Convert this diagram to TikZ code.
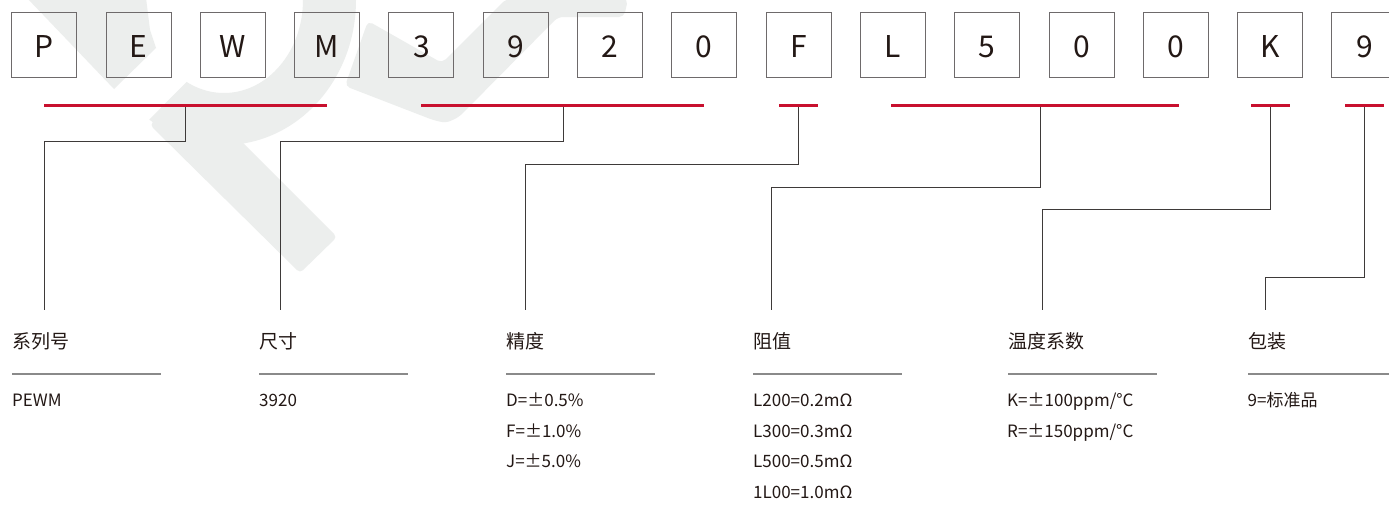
\documentclass[tikz,border=0pt]{standalone}
\usepackage{fontspec}
\setmainfont{Noto Sans CJK SC}
\definecolor{ink}{HTML}{231815}
\definecolor{boxgray}{HTML}{6E6A6B}
\definecolor{linegray}{HTML}{3E3A39}
\definecolor{sepgray}{HTML}{8A8A8A}
\definecolor{accent}{HTML}{C8102E}
\definecolor{wm}{HTML}{ECEEED}
\begin{document}
\begin{tikzpicture}[x=1pt,y=-1pt,
  digitbox/.style={draw=boxgray, line width=1pt, minimum size=65pt, inner sep=0pt},
  digitchar/.style={anchor=base, inner sep=0pt, text=ink, font=\fontsize{30}{30}\selectfont},
  redbar/.style={draw=accent, line width=3pt},
  conn/.style={draw=linegray, line width=1pt},
  head/.style={anchor=base west, inner sep=0pt, text=ink, font=\fontsize{19}{19}\selectfont},
  val/.style={anchor=base west, inner sep=0pt, text=ink, font=\fontsize{17}{17}\selectfont},
  sep/.style={draw=sepgray, line width=1.5pt},
  wmark/.style={fill=wm, draw=none}
]
\useasboundingbox (0,0) rectangle (1389,506);
\clip (0,0) rectangle (1389,506);
\fill[white] (0,0) rectangle (1389,506);

% watermark
\fill[wmark] (27,-2) -- (146,-2) -- (150,30) -- (156,48) -- (114,89) -- cycle;
\begin{scope}
  \clip (273,-5) -- (700,-5) -- (700,300) -- (-30,300) -- cycle;
  \fill[wmark, even odd rule] (224,0) ellipse [x radius=132pt, y radius=145pt]
                              (224,0) ellipse [x radius=79pt, y radius=93pt];
\end{scope}
\fill[wmark, rounded corners=4pt] (150,125) -- (300,273) -- (337,237) -- (230,130) -- (187,86) -- cycle;
\fill[wmark, rounded corners=5pt] (368,21) -- (442,63) -- (506,-1) -- (628,-1) -- (624,17) -- (558,17) -- (459,117) -- (446,123) -- (433,120) -- (345,86) -- cycle;

% code boxes
\foreach \t [count=\i from 0] in {P,E,W,M,3,9,2,0,F,L,5,0,0,K,9} {
  \node[digitbox] (b\i) at ({44.2+94.3*\i},45.2) {};
  \node[digitchar] (t\i) at ({44.2+94.3*\i},57.3) {\t};
}

% red bars
\coordinate (r1a) at (44.2,105.3);   \coordinate (r1b) at (327.1,105.3);
\coordinate (r2a) at (421.4,105.3);  \coordinate (r2b) at (704.3,105.3);
\coordinate (r3a) at (779,105.3);    \coordinate (r3b) at (818,105.3);
\coordinate (r4a) at (891,105.3);    \coordinate (r4b) at (1179,105.3);
\coordinate (r5a) at (1251,105.3);   \coordinate (r5b) at (1290,105.3);
\coordinate (r6a) at (1345,105.3);   \coordinate (r6b) at (1384,105.3);
\foreach \k in {1,...,6} { \draw[redbar] (r\k a) -- (r\k b); }

% taps, knees, ends
\coordinate (tap1) at (185.3,106.5);  \coordinate (knee1) at (44,141.7);    \coordinate (end1) at (44,310);
\coordinate (tap2) at (563,106.5);    \coordinate (knee2) at (280,141.7);   \coordinate (end2) at (280,310);
\coordinate (tap3) at (798.7,106.5);  \coordinate (knee3) at (525.7,164.3); \coordinate (end3) at (525.7,310);
\coordinate (tap4) at (1040,106.5);   \coordinate (knee4) at (771,187.5);   \coordinate (end4) at (771,310);
\coordinate (tap5) at (1270,106.5);   \coordinate (knee5) at (1042.5,209.5);\coordinate (end5) at (1042.5,310);
\coordinate (tap6) at (1364.3,106.5); \coordinate (knee6) at (1265.3,277.7);\coordinate (end6) at (1265.3,310);
\foreach \k in {1,...,6} { \draw[conn] (tap\k) |- (knee\k) -- (end\k); }

% headings
\node[head] (h1) at (12,348.5) {系列号};
\node[head] (h2) at (259,348.5) {尺寸};
\node[head] (h3) at (506,348.5) {精度};
\node[head] (h4) at (753,348.5) {阻值};
\node[head] (h5) at (1008,348.5) {温度系数};
\node[head] (h6) at (1248,348.5) {包装};

% separators
\coordinate (s1a) at (12,374);   \coordinate (s1b) at (161,374);
\coordinate (s2a) at (259,374);  \coordinate (s2b) at (408,374);
\coordinate (s3a) at (506,374);  \coordinate (s3b) at (655,374);
\coordinate (s4a) at (753,374);  \coordinate (s4b) at (902,374);
\coordinate (s5a) at (1008,374); \coordinate (s5b) at (1157,374);
\coordinate (s6a) at (1248,374); \coordinate (s6b) at (1389,374);
\foreach \k in {1,...,6} { \draw[sep] (s\k a) -- (s\k b); }

% values
\node[val] (v11) at (12,406.5) {PEWM};
\node[val] (v21) at (259,406.5) {3920};
\node[val] (v31) at (506,406.5) {D=±0.5\%};
\node[val] (v32) at (506,437) {F=±1.0\%};
\node[val] (v33) at (506,467.5) {J=±5.0\%};
\node[val] (v41) at (753,406.5) {L200=0.2mΩ};
\node[val] (v42) at (753,437) {L300=0.3mΩ};
\node[val] (v43) at (753,467.5) {L500=0.5mΩ};
\node[val] (v44) at (753,498) {1L00=1.0mΩ};
\node[val] (v51) at (1007,406.5) {K=±100ppm/°C};
\node[val] (v52) at (1007,437) {R=±150ppm/°C};
\node[val] (v61) at (1247.5,406.5) {9=标准品};
\end{tikzpicture}
\end{document}
